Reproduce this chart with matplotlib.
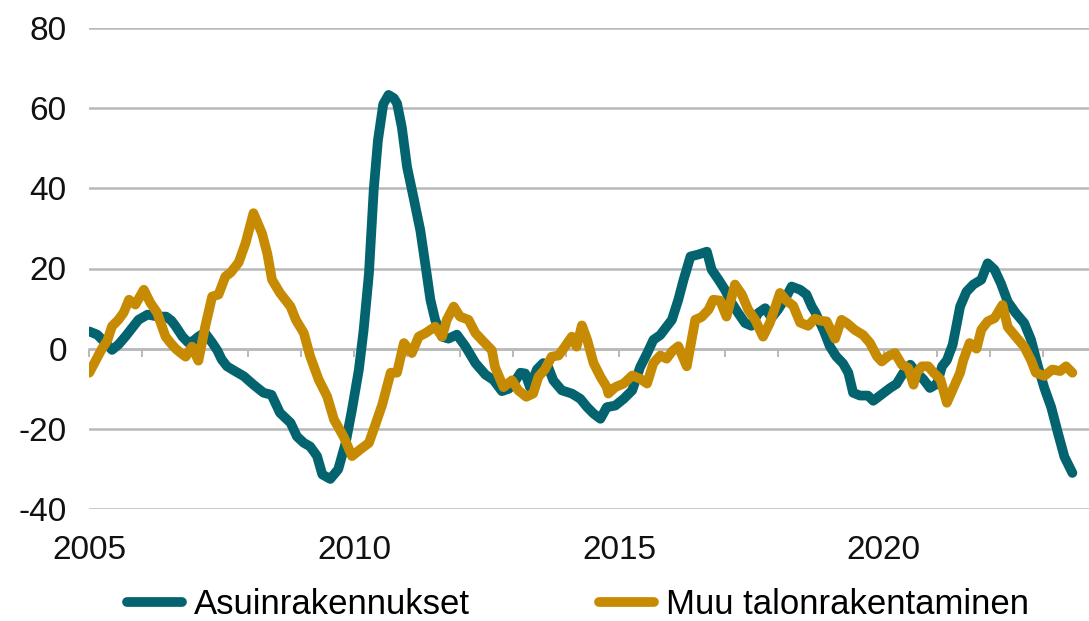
import matplotlib
matplotlib.use("Agg")
import matplotlib.pyplot as plt
from matplotlib import font_manager

# ---- data (decimal years, % change) ----
asuin_t = [2005.00, 2005.15, 2005.30, 2005.43, 2005.55, 2005.68, 2005.80, 2005.93, 2006.10, 2006.30,
           2006.45, 2006.55, 2006.63, 2006.76, 2006.87, 2006.97, 2007.06, 2007.18, 2007.32, 2007.42,
           2007.50, 2007.60, 2007.70, 2007.92, 2008.10, 2008.29, 2008.44, 2008.60, 2008.80, 2008.92,
           2009.05, 2009.17, 2009.30, 2009.40, 2009.55, 2009.70, 2009.84, 2009.96, 2010.09, 2010.18,
           2010.28, 2010.37, 2010.45, 2010.55, 2010.65, 2010.75, 2010.81, 2010.90, 2011.00, 2011.12,
           2011.25, 2011.35, 2011.44, 2011.53, 2011.66, 2011.78, 2011.94, 2012.10, 2012.29, 2012.48,
           2012.63, 2012.79, 2012.92, 2013.04, 2013.14, 2013.23, 2013.32, 2013.45, 2013.57, 2013.67,
           2013.76, 2013.92, 2014.11, 2014.27, 2014.40, 2014.52, 2014.65, 2014.77, 2014.93, 2015.09,
           2015.25, 2015.40, 2015.53, 2015.65, 2015.78, 2015.90, 2016.00, 2016.12, 2016.22, 2016.35,
           2016.50, 2016.66, 2016.75, 2016.88, 2017.00, 2017.13, 2017.25, 2017.38, 2017.50, 2017.63,
           2017.76, 2017.88, 2018.00, 2018.16, 2018.26, 2018.42, 2018.54, 2018.64, 2018.70, 2018.86,
           2018.98, 2019.10, 2019.23, 2019.33, 2019.42, 2019.55, 2019.70, 2019.80, 2019.96, 2020.12,
           2020.24, 2020.37, 2020.50, 2020.62, 2020.75, 2020.87, 2021.00, 2021.10, 2021.19, 2021.30,
           2021.36, 2021.44, 2021.56, 2021.69, 2021.84, 2021.96, 2022.09, 2022.21, 2022.34, 2022.49,
           2022.65, 2022.78, 2022.91, 2023.03, 2023.16, 2023.29, 2023.41, 2023.56]
asuin_v = [4.3, 3.5, 1.5, -0.3, 1.0, 3.0, 5.0, 7.2, 8.5, 8.0,
           8.0, 7.0, 5.6, 3.0, 1.5, 2.0, 3.0, 4.0, 1.5, -0.5,
           -2.7, -4.4, -5.2, -6.9, -9.0, -11.0, -11.5, -16.0, -18.5, -21.9,
           -23.5, -24.4, -26.8, -31.4, -32.5, -30.1, -23.5, -15.2, -5.2, 4.7,
           18.8, 39.6, 52.0, 61.0, 63.3, 62.5, 61.2, 55.3, 45.3, 37.8,
           29.5, 20.5, 12.2, 7.2, 3.0, 2.5, 3.5, 0.6, -3.6, -6.5,
           -7.8, -10.6, -10.0, -8.1, -6.0, -6.2, -9.6, -5.2, -3.6, -4.8,
           -7.9, -10.4, -11.2, -12.5, -14.6, -16.2, -17.5, -14.6, -14.2, -12.5,
           -10.4, -4.6, -1.2, 2.2, 3.4, 5.5, 7.2, 12.2, 17.2, 23.0,
           23.5, 24.2, 19.7, 17.2, 14.7, 11.4, 8.9, 6.4, 5.7, 8.9,
           10.1, 7.7, 9.7, 13.0, 15.5, 14.7, 13.5, 10.5, 9.2, 4.7,
           0.6, -1.9, -3.7, -6.0, -11.0, -11.7, -11.7, -13.0, -11.4, -9.8,
           -8.8, -6.0, -4.0, -6.0, -7.7, -9.8, -8.8, -4.4, -2.9, 1.0,
           5.0, 10.5, 14.2, 16.0, 17.2, 21.3, 19.7, 16.3, 11.7, 8.9,
           6.4, 2.2, -4.4, -9.8, -14.6, -21.2, -27.0, -31.0]

muu_t = [2005.00, 2005.12, 2005.24, 2005.34, 2005.43, 2005.55, 2005.65, 2005.75, 2005.87, 2006.03,
         2006.15, 2006.28, 2006.36, 2006.44, 2006.53, 2006.63, 2006.72, 2006.82, 2006.94, 2007.06,
         2007.19, 2007.32, 2007.44, 2007.57, 2007.67, 2007.82, 2007.95, 2008.10, 2008.26, 2008.36,
         2008.45, 2008.60, 2008.80, 2008.90, 2009.05, 2009.17, 2009.33, 2009.49, 2009.62, 2009.80,
         2009.96, 2010.12, 2010.28, 2010.40, 2010.53, 2010.69, 2010.81, 2010.94, 2011.09, 2011.22,
         2011.35, 2011.53, 2011.66, 2011.75, 2011.88, 2012.00, 2012.16, 2012.29, 2012.41, 2012.60,
         2012.66, 2012.82, 2012.98, 2013.10, 2013.25, 2013.38, 2013.48, 2013.60, 2013.73, 2013.86,
         2013.98, 2014.11, 2014.20, 2014.30, 2014.40, 2014.52, 2014.65, 2014.77, 2014.80, 2014.93,
         2015.09, 2015.25, 2015.40, 2015.53, 2015.65, 2015.78, 2015.90, 2016.00, 2016.12, 2016.28,
         2016.44, 2016.56, 2016.69, 2016.78, 2016.91, 2017.03, 2017.19, 2017.32, 2017.44, 2017.57,
         2017.72, 2017.85, 2018.04, 2018.16, 2018.29, 2018.42, 2018.57, 2018.70, 2018.80, 2018.92,
         2019.08, 2019.20, 2019.30, 2019.45, 2019.61, 2019.74, 2019.87, 2019.96, 2020.08, 2020.21,
         2020.34, 2020.46, 2020.56, 2020.62, 2020.72, 2020.84, 2020.94, 2021.07, 2021.19, 2021.32,
         2021.44, 2021.50, 2021.62, 2021.75, 2021.84, 2021.96, 2022.09, 2022.24, 2022.34, 2022.49,
         2022.65, 2022.78, 2022.87, 2023.03, 2023.18, 2023.33, 2023.44, 2023.56]
muu_v = [-6.0, -3.0, 0.0, 2.0, 5.6, 7.2, 9.0, 12.2, 11.0, 14.7,
         11.5, 9.0, 6.0, 3.0, 1.5, 0.0, -1.0, -2.0, 0.5, -3.0,
         5.6, 13.0, 13.5, 18.0, 19.0, 21.5, 26.3, 33.8, 28.8, 23.8,
         17.2, 13.9, 10.5, 7.2, 3.9, -1.9, -7.7, -11.9, -17.7, -21.9,
         -26.8, -25.1, -23.5, -19.0, -14.0, -6.0, -6.0, 1.4, -1.1, 3.0,
         3.9, 5.5, 3.0, 7.2, 10.5, 8.0, 7.2, 3.9, 2.2, -0.4,
         -4.6, -9.6, -7.9, -10.4, -12.0, -11.2, -7.0, -5.2, -2.0, -1.7,
         0.5, 3.0, 0.5, 5.8, 2.2, -3.6, -7.0, -9.6, -11.2, -9.6,
         -8.7, -6.7, -7.5, -8.7, -3.6, -1.7, -2.5, -0.7, 0.6, -4.4,
         7.2, 7.9, 9.7, 12.2, 12.0, 8.0, 16.0, 13.5, 9.7, 7.2,
         3.0, 6.5, 13.9, 12.0, 10.7, 6.5, 5.7, 7.5, 7.0, 6.8,
         2.5, 7.2, 6.4, 4.7, 3.4, 1.4, -1.9, -3.2, -1.9, -1.1,
         -4.0, -4.8, -9.0, -6.0, -4.4, -4.4, -6.0, -7.7, -13.5, -9.6,
         -6.0, -2.9, 1.4, 0.0, 4.7, 6.8, 7.6, 10.9, 5.4, 3.0,
         0.5, -2.9, -6.0, -6.8, -5.2, -5.6, -4.4, -6.0]

series_names = ["Asuinrakennukset", "Muu talonrakentaminen"]
series_colors = ["#03646f", "#c68b02"]
x_labels = [2005, 2010, 2015, 2020]
y_ticks = [-40, -20, 0, 20, 40, 60, 80]
minor_years = list(range(2005, 2024))

# ---- fonts ----
avail = {f.name for f in font_manager.fontManager.ttflist}
if "Liberation Sans Narrow" in avail:
    fam, fs, lfs = "Liberation Sans Narrow", 27, 28
else:
    fam, fs, lfs = "Liberation Sans", 24, 25
plt.rcParams["font.family"] = [fam, "DejaVu Sans"]

W, H = 1089, 621
fig = plt.figure(figsize=(W / 100, H / 100), dpi=100)
ax = fig.add_axes([89 / W, 1 - 509 / H, 1 - 89 / W, (509 - 28) / H])

grid_c = "#b9b9b9"
lw = 7.0
ax.plot(asuin_t, asuin_v, color=series_colors[0], lw=lw, solid_capstyle="round",
        solid_joinstyle="round", label=series_names[0], zorder=3)
ax.plot(muu_t, muu_v, color=series_colors[1], lw=lw, solid_capstyle="round",
        solid_joinstyle="round", label=series_names[1], zorder=4)

ax.set_xlim(2005 - 0.005, 2005 + (W - 88.7) / 53.0)
ax.set_ylim(-40, 80)
for s in ax.spines.values():
    s.set_visible(False)

ax.set_yticks(y_ticks)
ax.set_yticklabels([str(v) for v in y_ticks])
ax.yaxis.grid(True, color=grid_c, lw=1.8)
ax.set_axisbelow(True)
ax.tick_params(axis="y", length=0, pad=16, labelsize=fs, labelcolor="#111111")

ax.set_xticks(x_labels)
ax.set_xticklabels([str(v) for v in x_labels])
ax.tick_params(axis="x", length=0, pad=19, labelsize=fs, labelcolor="#111111")

# category axis crossing at zero, with yearly tick marks
sec = ax.secondary_xaxis(0, transform=ax.transData)
sec.set_xticks(minor_years)
sec.set_xticklabels([""] * len(minor_years))
sec.tick_params(axis="x", length=6, width=1.4, color=grid_c, direction="out")
sec.spines["bottom"].set_color(grid_c)
sec.spines["bottom"].set_linewidth(1.8)
sec.set_zorder(0.5)

handles, labels = ax.get_legend_handles_labels()
fig.legend(handles, labels, loc="center", bbox_to_anchor=(578 / W, 1 - 605 / H),
           ncol=2, frameon=False, fontsize=lfs, handlelength=1.58,
           handletextpad=0.35, columnspacing=3.7, borderaxespad=0)

fig.savefig("out.png", dpi=100, facecolor="white")
